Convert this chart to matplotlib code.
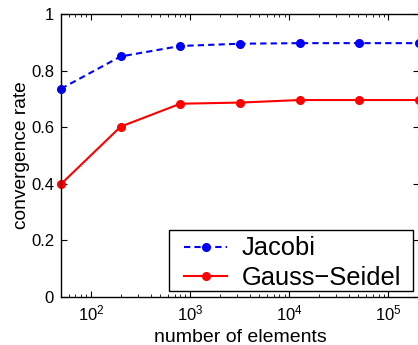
import matplotlib
matplotlib.use("Agg")
import matplotlib.pyplot as plt
from matplotlib.ticker import LogLocator, FixedLocator
from matplotlib.patches import Rectangle

plt.rcParams['font.family'] = ['Liberation Sans', 'DejaVu Sans']
plt.rcParams['mathtext.default'] = 'regular'

n_elements = [50, 200, 800, 3200, 12800, 51200, 204800]
jacobi = [0.736, 0.850, 0.887, 0.895, 0.897, 0.897, 0.897]
gauss_seidel = [0.399, 0.602, 0.683, 0.687, 0.696, 0.696, 0.696]
yticks = [0, 0.2, 0.4, 0.6, 0.8, 1]
ytick_labels = ['0', '0.2', '0.4', '0.6', '0.8', '1']

W, H = 418, 345
fig = plt.figure(figsize=(W / 100, H / 100), dpi=100)
ax = fig.add_axes([61 / W, 1 - 297 / H, 358 / W, 283 / H])

ax.plot(n_elements, jacobi, color='#0000ff', linestyle=(0, (3, 2)), lw=1.5,
        marker='o', markersize=5.5, label='Jacobi', clip_on=False)
ax.plot(n_elements, gauss_seidel, color='#ff0000', linestyle='-', lw=1.5,
        marker='o', markersize=5.5, label='Gauss\u2212Seidel', clip_on=False)

ax.set_xscale('log')
ax.set_xlim(50, 204800)
ax.set_ylim(0, 1)
ax.set_yticks(yticks)
ax.set_yticklabels(ytick_labels)
ax.xaxis.set_major_locator(FixedLocator([1e2, 1e3, 1e4, 1e5]))
ax.xaxis.set_minor_locator(LogLocator(base=10, subs=range(2, 10)))
ax.tick_params(which='both', direction='in', top=True, right=True, labelsize=12)
ax.tick_params(which='major', length=4, width=0.8)
ax.tick_params(which='minor', length=2, width=0.6)
ax.tick_params(axis='x', pad=5)
ax.tick_params(axis='y', pad=5)
for s in ax.spines.values():
    s.set_linewidth(1.0)

ax.set_xlabel('number of elements', fontsize=14, labelpad=3.5)
ax.set_ylabel('convergence rate', fontsize=13.8, labelpad=1)

# legend content placed at handle start / vertical centre of rows
leg = ax.legend(loc='center left',
                bbox_to_anchor=((184 - 61) / 358, (297 - 263) / 283),
                bbox_transform=ax.transAxes,
                fontsize=18.4, frameon=False, borderpad=0, borderaxespad=0,
                handlelength=1.7, labelspacing=0.2, handletextpad=0.55)
leg.set_zorder(6)

fig.canvas.draw()
ext = leg.get_window_extent()
inv = ax.transAxes.inverted()
x0, y0 = inv.transform((ext.x0 - 15, ext.y0 - 1))
x1, y1 = inv.transform((ext.x1 + 12, ext.y1 + 6))
frame = Rectangle((x0, y0), x1 - x0, y1 - y0, transform=ax.transAxes,
                  facecolor='white', edgecolor='black', lw=1.0,
                  zorder=5.5, clip_on=False)
ax.add_patch(frame)

fig.savefig('out.png', dpi=100)
